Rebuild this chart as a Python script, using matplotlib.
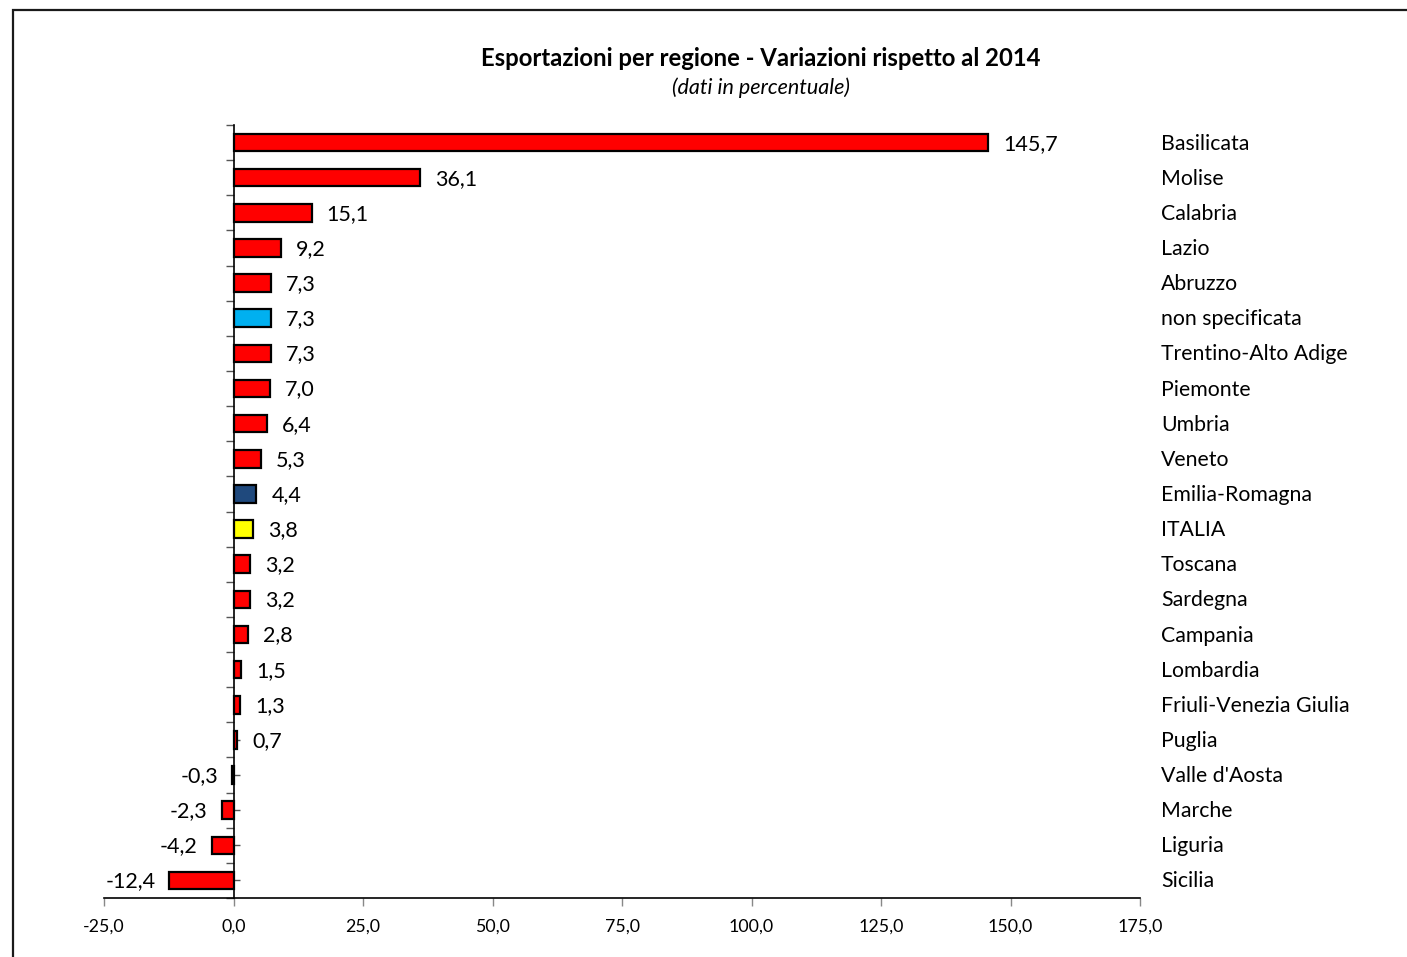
import matplotlib
matplotlib.use("Agg")
import matplotlib.pyplot as plt
import matplotlib.transforms as mtransforms
from matplotlib.patches import Rectangle
import numpy as np

regions = ["Basilicata", "Molise", "Calabria", "Lazio", "Abruzzo", "non specificata",
           "Trentino-Alto Adige", "Piemonte", "Umbria", "Veneto", "Emilia-Romagna",
           "ITALIA", "Toscana", "Sardegna", "Campania", "Lombardia",
           "Friuli-Venezia Giulia", "Puglia", "Valle d'Aosta", "Marche", "Liguria", "Sicilia"]
values = [145.7, 36.1, 15.1, 9.2, 7.3, 7.3, 7.3, 7.0, 6.4, 5.3, 4.4, 3.8, 3.2, 3.2,
          2.8, 1.5, 1.3, 0.7, -0.3, -2.3, -4.2, -12.4]
colors = ["#FF0000"] * len(regions)
colors[regions.index("non specificata")] = "#00B0F0"
colors[regions.index("Emilia-Romagna")] = "#1F497D"
colors[regions.index("ITALIA")] = "#FFFF00"
xticks = [-25, 0, 25, 50, 75, 100, 125, 150, 175]

plt.rcParams['font.family'] = ['Lato', 'DejaVu Sans']

fig = plt.figure(figsize=(14.07, 9.57), dpi=100)
W, H = 1407, 957
ax = fig.add_axes([104 / W, 1 - 898 / H, (1140 - 104) / W, (898 - 125) / H])

n = len(regions)
ypos = np.arange(n)
ax.barh(ypos, values, height=0.5, color=colors, edgecolor="black", linewidth=1.6, zorder=3)
ax.set_ylim(n - 0.5, -0.5)
ax.set_xlim(-25, 175)

ax.spines['left'].set_position(('data', 0))
ax.spines['right'].set_visible(False)
ax.spines['top'].set_visible(False)
ax.spines['left'].set_linewidth(1.2)
ax.spines['bottom'].set_linewidth(1.2)
ax.spines['left'].set_zorder(4)

ax.set_yticks(np.arange(-0.5, n, 1))
ax.set_yticklabels([])
ax.set_yticks(ypos, minor=True)
ax.tick_params(axis='y', which='major', direction='out', length=6, width=1, color='#555555')
ax.tick_params(axis='y', which='minor', direction='in', length=4, width=1, color='#555555')

ax.set_xticks(xticks)
ax.set_xticklabels([f"{v:.1f}".replace('.', ',') for v in xticks], fontsize=12.8)
ax.tick_params(axis='x', which='major', direction='out', length=6, width=1, color='#888888', pad=9)

px = 1.0 / 5.18
off = 0.03
for y, v in zip(ypos, values):
    lab = f"{v:.1f}".replace('.', ',')
    if v >= 0:
        ax.text(v + 15 * px, y + off, lab, ha='left', va='center', fontsize=15.5, zorder=5)
    else:
        ax.text(v - 14 * px, y + off, lab, ha='right', va='center', fontsize=15.5, zorder=5)

trans = mtransforms.blended_transform_factory(fig.transFigure, ax.transData)
for y, r in zip(ypos, regions):
    ax.text(1161 / W, y + off, r, transform=trans, ha='left', va='center', fontsize=15.3, clip_on=False)

fig.text(761 / W, 1 - 58 / H, "Esportazioni per regione - Variazioni rispetto al 2014",
         ha='center', va='center', fontsize=17.2, fontweight='bold')
fig.text(761 / W, 1 - 88 / H, "(dati in percentuale)", ha='center', va='center',
         fontsize=15.5, fontstyle='italic')

fig.patches.append(Rectangle((13 / W, -0.1), 1.2, 1.1 - 10 / H, transform=fig.transFigure,
                             fill=False, edgecolor='#1a1a1a', linewidth=1.6))

fig.savefig("out.png", dpi=100)
